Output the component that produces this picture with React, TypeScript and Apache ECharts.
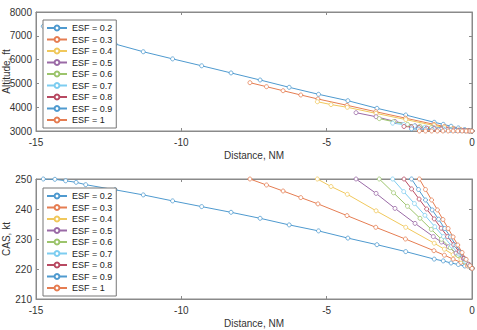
import React, { useEffect, useRef } from "react";
import * as echarts from "echarts";

const esfNames = ["ESF = 0.2", "ESF = 0.3", "ESF = 0.4", "ESF = 0.5", "ESF = 0.6", "ESF = 0.7", "ESF = 0.8", "ESF = 0.9", "ESF = 1"];
const esfColors = ["#4f9acf", "#e57d52", "#f0c85c", "#9a6aa6", "#9cc46c", "#7dcdf0", "#b84a62", "#4f9acf", "#e57d52"];

const distTicks = [-15, -10, -5, 0];

// ESF = 0.2
const dist02 = [-14.75, -14.35, -13.98, -13.62, -13.29, -12.28, -11.31, -10.3, -9.3, -8.29, -7.29, -6.29, -5.28, -4.27, -3.27, -2.28, -1.3, -0.99, -0.72, -0.47, -0.25, 0];
const cas02 = [250, 249.9, 249.4, 248.9, 248.1, 246.4, 244.7, 242.7, 240.8, 238.9, 236.9, 234.7, 232.7, 230.3, 228.1, 225.8, 223.3, 222.7, 222.0, 221.5, 221.0, 220.2];
const alt02 = [7400, 7280, 7170, 7060, 6960, 6655, 6330, 6030, 5740, 5440, 5143, 4836, 4542, 4273, 3954, 3672, 3366, 3280, 3200, 3130, 3060, 3000];
// ESF = 0.3
const dist03 = [-7.64, -7.07, -6.5, -5.89, -5.3, -4.3, -3.31, -2.29, -1.31, -0.95, -0.65, -0.38, -0.15, 0];
const cas03 = [250, 248, 246, 243.8, 241.7, 237.8, 233.9, 230, 226.1, 224.6, 223.3, 222.2, 221.0, 220.2];
const alt03 = [5030, 4862, 4693, 4513, 4345, 4080, 3810, 3540, 3280, 3190, 3110, 3050, 3010, 3000];
// ESF = 0.4
const dist04 = [-5.32, -4.85, -4.29, -3.3, -2.28, -1.3, -0.95, -0.65, -0.38, -0.15, 0];
const cas04 = [250, 247.5, 244.9, 239.4, 233.9, 228.6, 226.6, 224.8, 223.2, 221.6, 220.2];
const alt04 = [4230, 4110, 3996, 3740, 3480, 3230, 3150, 3090, 3040, 3010, 3000];
// ESF = 0.5
const dist05 = [-3.99, -3.3, -2.65, -1.96, -1.33, -1.05, -0.81, -0.55, -0.3, -0.1, 0];
const cas05 = [250, 245.2, 240.2, 235.2, 230.8, 229, 227.4, 225.3, 223.4, 221.5, 220.2];
const alt05 = [3770, 3600, 3400, 3220, 3140, 3110, 3080, 3050, 3025, 3008, 3000];
// ESF = 0.6
const dist06 = [-3.19, -2.7, -2.22, -1.79, -1.4, -1.05, -0.75, -0.48, -0.25, -0.08, 0];
const cas06 = [250, 245.4, 240.9, 236.9, 233.2, 229.9, 227.1, 224.5, 222.4, 220.9, 220.2];
const alt06 = [3520, 3390, 3280, 3200, 3140, 3090, 3060, 3035, 3015, 3005, 3000];
// ESF = 0.7
const dist07 = [-2.73, -2.35, -1.98, -1.62, -1.28, -0.98, -0.7, -0.45, -0.23, -0.07, 0];
const cas07 = [250, 245.8, 241.8, 237.9, 234.1, 230.8, 227.7, 225, 222.6, 220.9, 220.2];
const alt07 = [3330, 3270, 3210, 3160, 3120, 3085, 3055, 3030, 3012, 3004, 3000];
// ESF = 0.8
const dist08 = [-2.34, -2.08, -1.82, -1.56, -1.3, -1.06, -0.84, -0.63, -0.44, -0.27, -0.12, 0];
const cas08 = [250, 246.7, 243.3, 240, 236.7, 233.6, 230.8, 228.1, 225.7, 223.5, 221.6, 220.2];
const alt08 = [3190, 3170, 3145, 3120, 3100, 3080, 3060, 3045, 3030, 3018, 3008, 3000];
// ESF = 0.9
const dist09 = [-2.08, -1.84, -1.6, -1.37, -1.15, -0.94, -0.74, -0.55, -0.38, -0.22, -0.08, 0];
const cas09 = [250, 246.5, 243, 239.7, 236.6, 233.5, 230.7, 227.9, 225.5, 223.2, 221.2, 220.2];
const alt09 = [3090, 3080, 3070, 3060, 3050, 3040, 3030, 3022, 3014, 3008, 3003, 3000];
// ESF = 1
const dist10 = [-1.81, -1.6, -1.39, -1.19, -1.0, -0.82, -0.65, -0.49, -0.34, -0.2, -0.07, 0];
const cas10 = [250, 246.5, 243, 239.7, 236.5, 233.5, 230.7, 228, 225.5, 223.2, 221.1, 220.2];
const alt10 = [3000, 3000, 3000, 3000, 3000, 3000, 3000, 3000, 3000, 3000, 3000, 3000];

const dists = [dist02, dist03, dist04, dist05, dist06, dist07, dist08, dist09, dist10];
const cass = [cas02, cas03, cas04, cas05, cas06, cas07, cas08, cas09, cas10];
const alts = [alt02, alt03, alt04, alt05, alt06, alt07, alt08, alt09, alt10];

const FONT = "Liberation Sans, Arial, sans-serif";
const AXIS_COLOR = "#8a8a8a";
const TEXT_COLOR = "#333";

function xAxisPair(gridIndex: number) {
  const base = {
    type: "value",
    gridIndex,
    min: -15,
    max: 0,
    interval: 5,
    splitLine: { show: false },
    axisLine: { show: true, onZero: false, lineStyle: { color: AXIS_COLOR, width: 1 } },
    axisTick: { show: true, inside: true, length: 3, lineStyle: { color: AXIS_COLOR } },
  };
  return [
    {
      ...base,
      position: "bottom",
      name: "Distance, NM",
      nameLocation: "middle",
      nameGap: 19,
      nameMoveOverlap: false,
      nameTextStyle: { fontFamily: FONT, fontSize: 10, color: TEXT_COLOR },
      axisLabel: {
        margin: 6,
        fontFamily: FONT,
        fontSize: 10,
        color: TEXT_COLOR,
        formatter: (v: number) => (distTicks.includes(v) ? String(v) : ""),
      },
    },
    { ...base, position: "top", axisLabel: { show: false } },
  ];
}

function yAxisPair(gridIndex: number, min: number, max: number, interval: number, name: string) {
  const base = {
    type: "value",
    gridIndex,
    min,
    max,
    interval,
    splitLine: { show: false },
    axisLine: { show: true, onZero: false, lineStyle: { color: AXIS_COLOR, width: 1 } },
    axisTick: { show: true, inside: true, length: 3, lineStyle: { color: AXIS_COLOR } },
  };
  return [
    {
      ...base,
      position: "left",
      name,
      nameLocation: "middle",
      nameGap: 25,
      nameMoveOverlap: false,
      nameTextStyle: { fontFamily: FONT, fontSize: 10, color: TEXT_COLOR },
      axisLabel: { margin: 4, fontFamily: FONT, fontSize: 10, color: TEXT_COLOR, formatter: (v: number) => String(v) },
    },
    { ...base, position: "right", axisLabel: { show: false } },
  ];
}

function legendAt(top: number) {
  return {
    data: esfNames,
    orient: "vertical",
    left: 43,
    top,
    padding: [3, 4, 3, 3],
    itemWidth: 20,
    itemHeight: 6,
    itemGap: 1.5,
    backgroundColor: "#ffffff",
    borderColor: "#777",
    borderWidth: 1,
    textStyle: { fontFamily: FONT, fontSize: 9, color: "#222", lineHeight: 10 },
  };
}

export default function App() {
  const ref = useRef<HTMLDivElement>(null);
  useEffect(() => {
    if (!ref.current) return;
    const chart = echarts.init(ref.current, undefined, { renderer: "svg" });
    const series: any[] = [];
    [0, 1].forEach((g) => {
      esfNames.forEach((name, i) => {
        const d = dists[i];
        const v = g === 0 ? alts[i] : cass[i];
        series.push({
          type: "line",
          name,
          xAxisIndex: g * 2,
          yAxisIndex: g * 2,
          data: d.map((x, k) => [x, v[k]]),
          symbol: "circle",
          symbolSize: 4,
          showSymbol: true,
          clip: true,
          lineStyle: { width: 1, color: esfColors[i] },
          itemStyle: { color: "#ffffff", borderColor: esfColors[i], borderWidth: 0.8 },
          z: 2,
        });
      });
    });
    chart.setOption({
      animation: false,
      backgroundColor: "#ffffff",
      textStyle: { fontFamily: FONT },
      grid: [
        { left: 36, right: 5, top: 12, height: 119, outerBoundsMode: "none", containLabel: false, show: true, borderColor: AXIS_COLOR, borderWidth: 1, backgroundColor: "transparent" },
        { left: 36, right: 5, top: 179, height: 120, outerBoundsMode: "none", containLabel: false, show: true, borderColor: AXIS_COLOR, borderWidth: 1, backgroundColor: "transparent" },
      ],
      xAxis: [...xAxisPair(0), ...xAxisPair(1)],
      yAxis: [...yAxisPair(0, 3000, 8000, 1000, "Altitude, ft"), ...yAxisPair(1, 210, 250, 10, "CAS, kt")],
      legend: [legendAt(20), legendAt(188)],
      series,
    });
    return () => chart.dispose();
  }, []);
  return <div ref={ref} style={{ width: 477, height: 330, position: "absolute", left: 0, top: 0 }} />;
}
